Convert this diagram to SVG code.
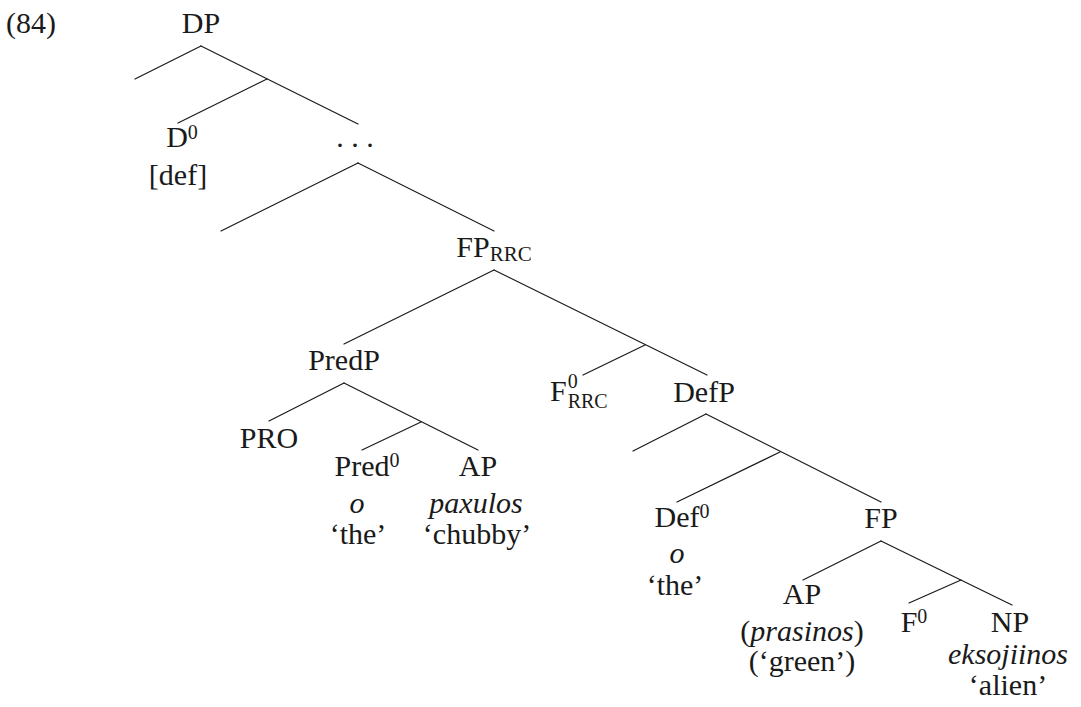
<svg xmlns="http://www.w3.org/2000/svg" width="1081" height="707" viewBox="0 0 1081 707">
<style>
text{font-family:"Liberation Serif","Times New Roman",serif;font-size:30px;fill:#1a1a1a}
.m{text-anchor:middle}
.i{font-style:italic}
.s{font-size:20px}
line{stroke:#1a1a1a;stroke-width:1.2;stroke-linecap:round}
</style>
<rect width="1081" height="707" fill="#fff"/>
<g id="connectors">
<line x1="201" y1="46" x2="135" y2="79"/>
<line x1="201" y1="46" x2="358" y2="124"/>
<line x1="267" y1="79" x2="178" y2="123"/>
<line x1="358" y1="163" x2="221" y2="231"/>
<line x1="358" y1="163" x2="494" y2="231"/>
<line x1="494" y1="270" x2="344" y2="344"/>
<line x1="494" y1="270" x2="707" y2="375"/>
<line x1="645" y1="345" x2="583" y2="375"/>
<line x1="344" y1="383" x2="269" y2="421"/>
<line x1="344" y1="383" x2="478" y2="450"/>
<line x1="421" y1="422" x2="362" y2="450"/>
<line x1="706" y1="414" x2="633" y2="451"/>
<line x1="706" y1="414" x2="881" y2="502"/>
<line x1="780" y1="452" x2="677" y2="502"/>
<line x1="881" y1="541" x2="803" y2="580"/>
<line x1="881" y1="541" x2="1012" y2="605"/>
<line x1="961" y1="580" x2="909" y2="603"/>
</g>
<g id="ex-number"><text x="6" y="33">(84)</text></g>
<g id="DP"><text class="m" x="201" y="33">DP</text></g>
<g id="D0"><text class="m" x="182" y="147">D<tspan class="s" dy="-8">0</tspan></text><text class="m" x="178" y="185">[def]</text></g>
<g id="dots"><text class="m" x="355" y="147">. . .</text></g>
<g id="FP_RRC"><text class="m" x="494" y="257">FP<tspan font-size="21" dy="4">RRC</tspan></text></g>
<g id="PredP"><text class="m" x="344" y="370">PredP</text></g>
<g id="F0_RRC"><text x="550" y="401">F<tspan class="s" dx="1" dy="-13">0</tspan><tspan font-size="20" dx="-10" dy="20">RRC</tspan></text></g>
<g id="DefP"><text class="m" x="704" y="402">DefP</text></g>
<g id="PRO"><text class="m" x="269" y="448">PRO</text></g>
<g id="Pred0"><text class="m" x="367" y="476">Pred<tspan class="s" dy="-9">0</tspan></text><text class="m i" x="357" y="513">o</text><text class="m" x="358" y="544">‘the’</text></g>
<g id="AP1"><text class="m" x="478" y="476">AP</text><text class="m i" x="476" y="513">paxulos</text><text class="m" x="477" y="544">‘chubby’</text></g>
<g id="Def0"><text class="m" x="682" y="527">Def<tspan class="s" dy="-9">0</tspan></text><text class="m i" x="677" y="563">o</text><text class="m" x="675" y="595">‘the’</text></g>
<g id="FP"><text class="m" x="881" y="528">FP</text></g>
<g id="AP2"><text class="m" x="802" y="604">AP</text><text class="m" x="802" y="641">(<tspan class="i">prasinos</tspan>)</text><text class="m" x="802" y="671">(‘green’)</text></g>
<g id="F0"><text class="m" x="914" y="632">F<tspan class="s" dy="-9">0</tspan></text></g>
<g id="NP"><text class="m" x="1010" y="632">NP</text><text class="m i" x="1008" y="664">eksojiinos</text><text class="m" x="1008" y="695">‘alien’</text></g>
</svg>
